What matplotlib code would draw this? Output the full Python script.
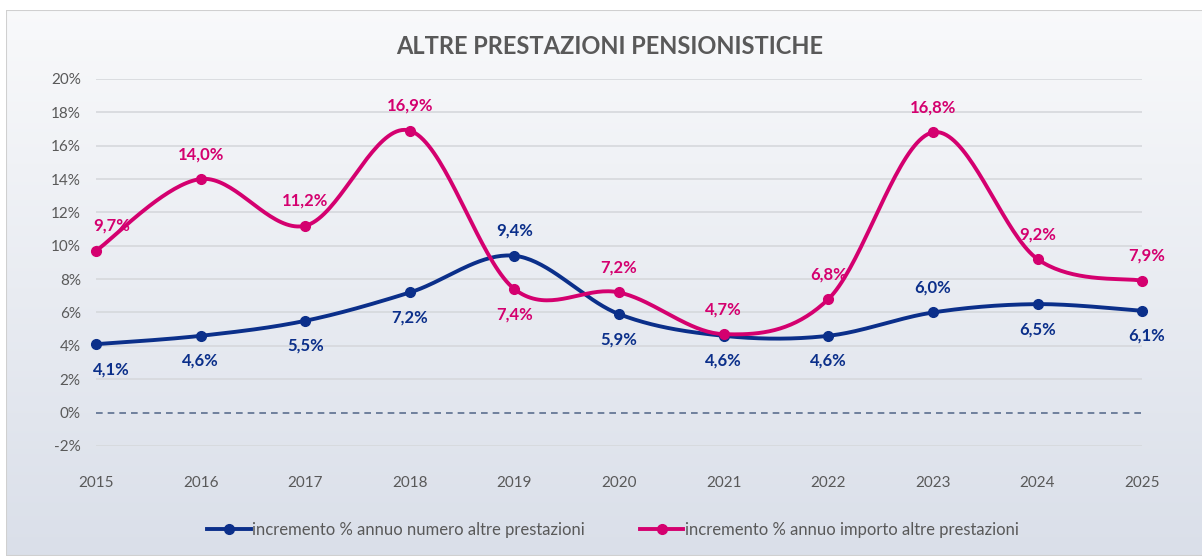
import numpy as np
import matplotlib.pyplot as plt
from matplotlib.lines import Line2D
from matplotlib.patches import Rectangle

plt.rcParams['font.family'] = ['Lato', 'DejaVu Sans']

anni = [2015, 2016, 2017, 2018, 2019, 2020, 2021, 2022, 2023, 2024, 2025]
numero = [4.1, 4.6, 5.5, 7.2, 9.4, 5.9, 4.6, 4.6, 6.0, 6.5, 6.1]
importo = [9.7, 14.0, 11.2, 16.9, 7.4, 7.2, 4.7, 6.8, 16.8, 9.2, 7.9]
# where each data label sits: 1 above, -1 below
pos_numero = [-1, -1, -1, -1, 1, -1, -1, -1, 1, -1, -1]
pos_importo = [1, 1, 1, 1, -1, 1, 1, 1, 1, 1, 1]

BLU = '#0b2f8a'
ROSA = '#d4006f'
GRIGIO = '#595959'


def smooth(x, y, n=40):
    # excel-like smoothed line (cardinal bezier through the points)
    x = np.asarray(x, float)
    y = np.asarray(y, float)
    px = np.concatenate([[x[0]], x, [x[-1]]])
    py = np.concatenate([[y[0]], y, [y[-1]]])
    xs, ys = [], []
    t = np.linspace(0, 1, n)
    for i in range(1, len(px) - 2):
        p0 = np.array([px[i], py[i]])
        p3 = np.array([px[i + 1], py[i + 1]])
        p1 = p0 + (np.array([px[i + 1], py[i + 1]]) - np.array([px[i - 1], py[i - 1]])) / 6
        p2 = p3 - (np.array([px[i + 2], py[i + 2]]) - np.array([px[i], py[i]])) / 6
        b = ((1 - t) ** 3)[:, None] * p0 + (3 * (1 - t) ** 2 * t)[:, None] * p1 \
            + (3 * (1 - t) * t ** 2)[:, None] * p2 + (t ** 3)[:, None] * p3
        xs.extend(b[:, 0])
        ys.extend(b[:, 1])
    return np.array(xs), np.array(ys)


fig = plt.figure(figsize=(12.02, 5.56), dpi=100)
fig.patch.set_facecolor('white')

# gradient background of the chart box
bg = fig.add_axes([0.005, 0, 0.995, 0.982], zorder=-5)
grad = np.linspace(0, 1, 256)[:, None]
top = np.array([0.975, 0.978, 0.984])
bot = np.array([0.855, 0.875, 0.915])
img = top + (bot - top) * grad[:, :, None]
bg.imshow(img, aspect='auto', extent=[0, 1, 0, 1], origin='upper')
bg.add_patch(Rectangle((0, 0), 1.2, 1, fill=False, edgecolor='#d0d0d0', lw=1.5,
                       transform=bg.transAxes))
bg.set_axis_off()

ax = fig.add_axes([0.0799, 0.198, 0.8703, 0.660])
ax.patch.set_alpha(0)

ax.set_xlim(2015, 2025)
ax.set_ylim(-2, 20)
ax.set_yticks(range(-2, 21, 2))
ax.set_yticklabels([f'{v}%' for v in range(-2, 21, 2)])
ax.set_xticks(anni)
ax.tick_params(axis='both', length=0, labelsize=11, colors=GRIGIO)
ax.tick_params(axis='y', pad=11)
ax.tick_params(axis='x', pad=22)
for s in ax.spines.values():
    s.set_visible(False)
for v in range(-2, 21, 2):
    if v == 0:
        ax.axhline(0, color='#5b6f8f', lw=1.2, ls=(0, (4, 3)), zorder=1)
    else:
        ax.axhline(v, color='#d6d8dc', lw=1.2, zorder=0)

for vals, col, pos in [(numero, BLU, pos_numero), (importo, ROSA, pos_importo)]:
    sx, sy = smooth(anni, vals)
    ax.plot(sx, sy, color=col, lw=2.8, zorder=3, solid_capstyle='round', clip_on=False)
    ax.plot(anni, vals, 'o', color=col, ms=7, zorder=4, clip_on=False)
    for x, v, p in zip(anni, vals, pos):
        dx = 0
        if x == 2015:
            dx = 11
        elif x == 2025:
            dx = 3
        ax.annotate(f'{v:.1f}%'.replace('.', ','), (x, v), xytext=(dx, 18 * p),
                    textcoords='offset points', ha='center', va='center',
                    color=col, fontsize=12, fontweight='bold', zorder=5)

fig.text(0.507, 0.917, 'ALTRE PRESTAZIONI PENSIONISTICHE', ha='center', va='center',
         fontsize=17, fontweight='bold', color=GRIGIO)

handles = [Line2D([], [], color=BLU, lw=2.8, marker='o', ms=7),
           Line2D([], [], color=ROSA, lw=2.8, marker='o', ms=7)]
fig.legend(handles, ['incremento % annuo numero altre prestazioni',
                     'incremento % annuo importo altre prestazioni'],
           loc='center', bbox_to_anchor=(0.51, 0.047), ncol=2, frameon=False,
           fontsize=12, labelcolor=GRIGIO, handlelength=2.6, handletextpad=0.1,
           columnspacing=3.3)

fig.savefig('out.png', dpi=100)
